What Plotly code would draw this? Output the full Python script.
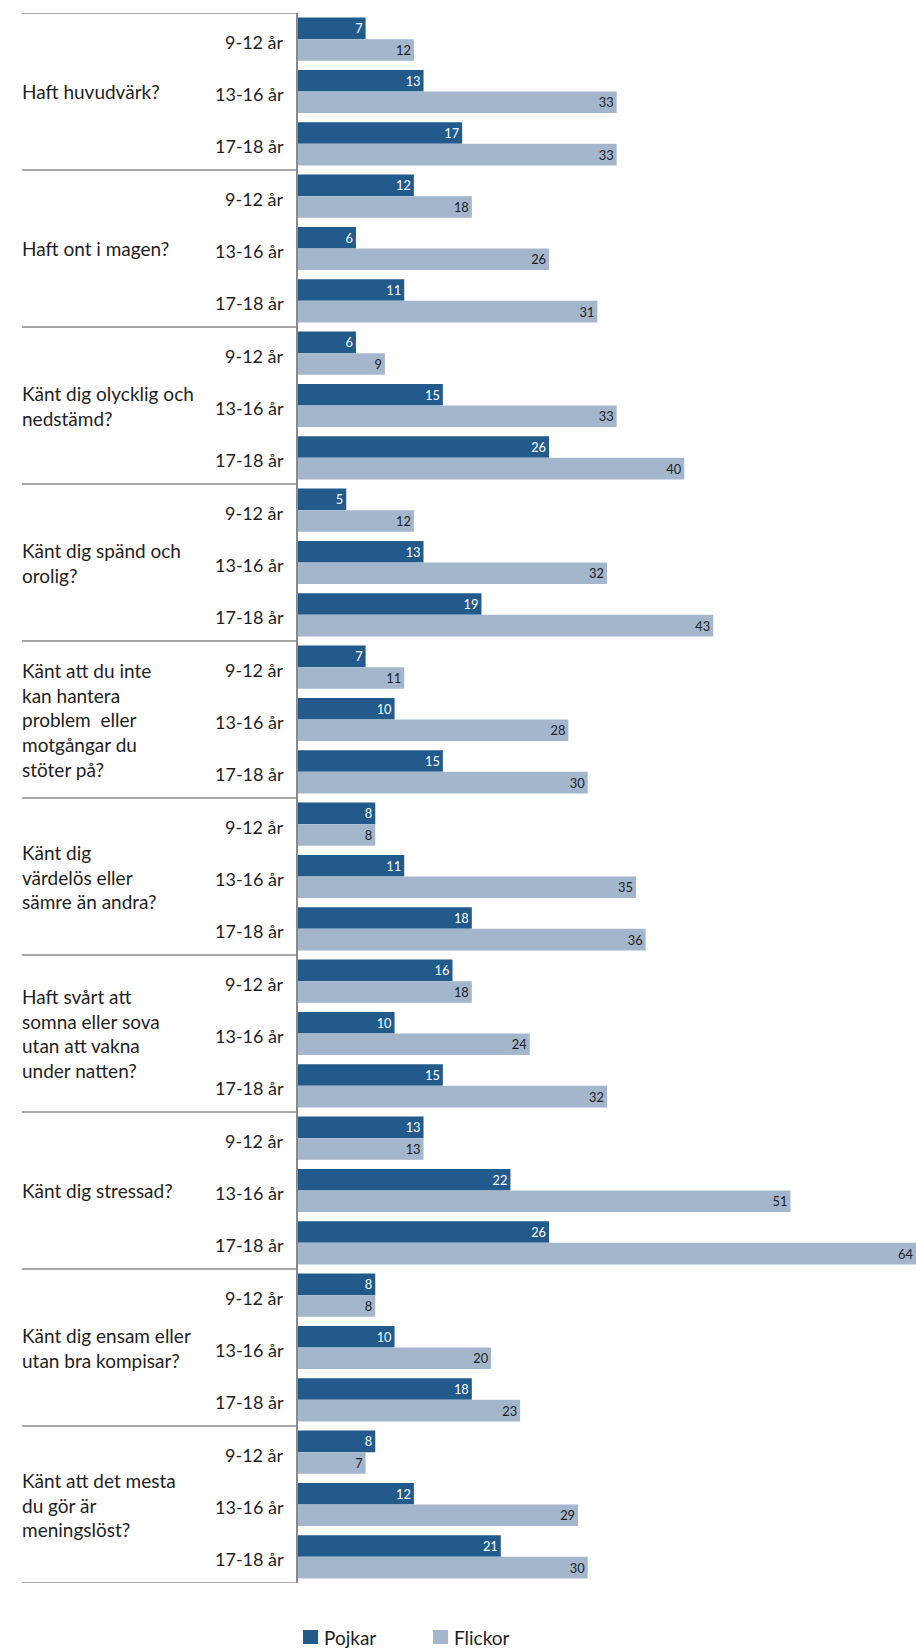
import plotly.graph_objects as go

# Survey questions (one group of bars per question)
questions = [
    "Haft huvudvärk?",
    "Haft ont i magen?",
    "Känt dig olycklig och<br>nedstämd?",
    "Känt dig spänd och<br>orolig?",
    "Känt att du inte<br>kan hantera<br>problem  eller<br>motgångar du<br>stöter på?",
    "Känt dig<br>värdelös eller<br>sämre än andra?",
    "Haft svårt att<br>somna eller sova<br>utan att vakna<br>under natten?",
    "Känt dig stressad?",
    "Känt dig ensam eller<br>utan bra kompisar?",
    "Känt att det mesta<br>du gör är<br>meningslöst?",
]
age_groups = ["9-12 år", "13-16 år", "17-18 år"]
series_names = ["Pojkar", "Flickor"]

# Percentages, ordered question by question, age group by age group
pojkar = [7, 13, 17,
          12, 6, 11,
          6, 15, 26,
          5, 13, 19,
          7, 10, 15,
          8, 11, 18,
          16, 10, 15,
          13, 22, 26,
          8, 10, 18,
          8, 12, 21]
flickor = [12, 33, 33,
           18, 26, 31,
           9, 33, 40,
           12, 32, 43,
           11, 28, 30,
           8, 35, 36,
           18, 24, 32,
           13, 51, 64,
           8, 20, 23,
           7, 29, 30]

DARK = "#225a8b"
LIGHT = "#a3b6cc"
TEXT = "#1e1e1e"
FONT = "Lato"
W, H = 916, 1648
L, T, B = 298, 13, 65
plot_w = W - L
plot_h = H - T - B
n_rows = len(pojkar)
rows = list(range(n_rows))

fig = go.Figure()
fig.add_trace(go.Bar(
    y=rows, x=pojkar, orientation="h", name=series_names[0],
    marker=dict(color=DARK, line=dict(width=0)),
    text=pojkar, textposition="inside", insidetextanchor="end", textangle=0,
    textfont=dict(family=FONT, size=14, color="white"),
    hoverinfo="skip", showlegend=False,
))
fig.add_trace(go.Bar(
    y=rows, x=flickor, orientation="h", name=series_names[1],
    marker=dict(color=LIGHT, line=dict(width=0)),
    text=flickor, textposition="inside", insidetextanchor="end", textangle=0,
    textfont=dict(family=FONT, size=14, color=TEXT),
    hoverinfo="skip", showlegend=False,
))


def px_x(px):
    return (px - L) / plot_w


def px_y(py):
    return (H - B - py) / plot_h


annotations = []
shapes = []
for qi, q in enumerate(questions):
    # question label, centred on its group
    annotations.append(dict(
        xref="paper", yref="y", x=px_x(20), y=qi * 3 + 1,
        text=q, showarrow=False, xanchor="left", yanchor="middle", align="left",
        font=dict(family=FONT, size=19, color=TEXT),
    ))
    for ai, a in enumerate(age_groups):
        annotations.append(dict(
            xref="paper", yref="y", x=px_x(286), y=qi * 3 + ai + 0.05,
            text=a, showarrow=False, xanchor="right", yanchor="middle",
            font=dict(family=FONT, size=18, color=TEXT),
        ))

# separator lines between question groups
for gi in range(len(questions) + 1):
    yv = gi * 3 - 0.5
    shapes.append(dict(
        type="line", xref="paper", yref="y",
        x0=px_x(22), x1=0, y0=yv, y1=yv,
        line=dict(color="#8a8a8a", width=1.5),
    ))

# legend below the chart: colour swatch followed by series name
legend_items = [(series_names[0], DARK, 303), (series_names[1], LIGHT, 433)]
for name, color, sx in legend_items:
    shapes.append(dict(
        type="rect", xref="paper", yref="paper",
        x0=px_x(sx), x1=px_x(sx + 15), y0=px_y(1644), y1=px_y(1630),
        fillcolor=color, line=dict(width=0),
    ))
    annotations.append(dict(
        xref="paper", yref="paper", x=px_x(sx + 19), y=px_y(1637),
        text=name, showarrow=False, xanchor="left", yanchor="middle",
        font=dict(family=FONT, size=19, color=TEXT),
    ))

fig.update_layout(
    width=W, height=H,
    margin=dict(l=L, r=0, t=T, b=B, pad=0),
    paper_bgcolor="white", plot_bgcolor="white",
    barmode="group", bargap=0.175, bargroupgap=0,
    xaxis=dict(range=[0, 64], visible=False, fixedrange=True),
    yaxis=dict(range=[n_rows - 0.5, -0.5], showticklabels=False, ticks="",
               showgrid=False, zeroline=False, showline=True,
               linecolor="#8a8a8a", linewidth=1.5, fixedrange=True),
    annotations=annotations,
    shapes=shapes,
    showlegend=False,
)

fig.write_html("out.html")
